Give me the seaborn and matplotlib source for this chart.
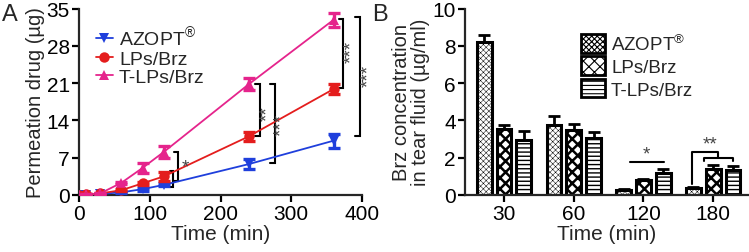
import numpy as np
import pandas as pd
import matplotlib
matplotlib.use("Agg")
import matplotlib.pyplot as plt
from matplotlib.patches import Patch
from matplotlib.lines import Line2D
import seaborn as sns

# ---------------- data ----------------
groups = ["AZOPT®", "LPs/Brz", "T-LPs/Brz"]
legend_labels = [r"AZOPT$^{\circledR}$", "LPs/Brz", "T-LPs/Brz"]

# Panel A: permeation (µg) vs time (min)
time_a = [0, 10, 30, 60, 90, 120, 240, 360]
azopt_a = [0, 0.05, 0.2, 0.5, 1.1, 1.9, 5.8, 10.2]
azopt_a_err = [0, 0, 0.05, 0.1, 0.3, 0.3, 0.9, 1.3]
lps_a = [0, 0.1, 0.3, 0.9, 2.2, 3.5, 11.0, 19.9]
lps_a_err = [0, 0, 0.1, 0.2, 0.3, 0.9, 0.9, 0.9]
tlps_a = [0, 0.1, 0.3, 2.3, 5.1, 8.1, 20.8, 32.9]
tlps_a_err = [0, 0, 0.1, 0.2, 1.0, 1.1, 1.1, 1.3]
xticks_a = [0, 100, 200, 300, 400]
yticks_a = [0, 7, 14, 21, 28, 35]

# Panel B: Brz concentration in tear fluid (µg/ml)
time_b = ["30", "60", "120", "180"]
azopt_b = [8.2, 3.75, 0.25, 0.35]
azopt_b_err = [0.4, 0.5, 0.05, 0.08]
lps_b = [3.55, 3.5, 0.8, 1.4]
lps_b_err = [0.22, 0.33, 0.05, 0.2]
tlps_b = [2.95, 3.05, 1.2, 1.35]
tlps_b_err = [0.5, 0.33, 0.22, 0.2]
yticks_b = [0, 2, 4, 6, 8, 10]

colors = {"AZOPT®": "#1f3fdc", "LPs/Brz": "#e41d1d", "T-LPs/Brz": "#e5248c"}
markers = {"AZOPT®": "v", "LPs/Brz": "o", "T-LPs/Brz": "^"}
hatches = {"AZOPT®": "xxxxxx", "LPs/Brz": "xxx", "T-LPs/Brz": "----"}
hatch_lw = {"AZOPT®": 0.35, "LPs/Brz": 1.8, "T-LPs/Brz": 1.0}

# ---------------- style ----------------
sns.set_style("ticks")
plt.rcParams["font.family"] = ["Liberation Sans", "DejaVu Sans"]
plt.rcParams["mathtext.fontset"] = "custom"
plt.rcParams["mathtext.rm"] = "Liberation Sans"
plt.rcParams["axes.linewidth"] = 1.6
plt.rcParams["xtick.major.width"] = 1.6
plt.rcParams["ytick.major.width"] = 1.6
plt.rcParams["xtick.major.size"] = 5
plt.rcParams["ytick.major.size"] = 5
plt.rcParams["hatch.linewidth"] = 0.8

def set_hlw(p, lw):
    if hasattr(p, "set_hatch_linewidth"):
        try:
            p.set_hatch_linewidth(lw)
        except Exception:
            pass

fig = plt.figure(figsize=(7.49, 2.53), dpi=100)
axA = fig.add_axes([0.1055, 0.2253, 0.3778, 0.737])
axB = fig.add_axes([0.6208, 0.2253, 0.378, 0.737])

# ---------------- Panel A ----------------
dfA = pd.DataFrame({
    "Time": time_a * 3,
    "Value": azopt_a + lps_a + tlps_a,
    "Err": azopt_a_err + lps_a_err + tlps_a_err,
    "Group": [groups[0]] * len(time_a) + [groups[1]] * len(time_a) + [groups[2]] * len(time_a),
})
sns.lineplot(data=dfA, x="Time", y="Value", hue="Group", style="Group",
             hue_order=groups, style_order=groups, palette=colors,
             markers=markers, dashes=False, markersize=7.5, linewidth=1.3,
             markeredgewidth=0, ax=axA, legend=False, zorder=3)
for g in groups:
    sub = dfA[dfA.Group == g]
    axA.errorbar(sub.Time, sub.Value, yerr=sub.Err, fmt="none",
                 ecolor=colors[g], elinewidth=2.4, capsize=4, capthick=2.4, zorder=3)

axA.set_xlim(0, 400)
axA.set_ylim(0, 35)
axA.set_xticks(xticks_a)
axA.set_yticks(yticks_a)
axA.set_xlabel("Time (min)", fontsize=15, labelpad=1)
axA.set_ylabel("Permeation drug (µg)", fontsize=14.5, labelpad=1)
axA.tick_params(labelsize=15, pad=1.5, colors="black")
sns.despine(ax=axA)

handlesA = [Line2D([0], [0], color=colors[g], marker=markers[g], markersize=7.5,
                   markeredgewidth=0, lw=1.3) for g in groups]
axA.legend(handlesA, legend_labels, loc="upper left", bbox_to_anchor=(0.045, 0.935),
           frameon=False, fontsize=14, handlelength=0.9, handletextpad=0.3,
           labelspacing=0.05, borderpad=0.2, borderaxespad=0)

def bracket_left(ax, xv, xl, y1, y2, lw=1.5):
    ax.plot([xl, xv, xv, xl], [y1, y1, y2, y2], color="black", lw=lw,
            clip_on=False, solid_joinstyle="miter")

def stars_v(ax, x, y, s):
    ax.text(x, y, s, rotation=90, ha="center", va="center", fontsize=13.5,
            color="#444444", clip_on=False)

bracket_left(axA, 140, 134, 8.0, 2.6)
bracket_left(axA, 133, 128, 4.5, 1.5)
axA.text(150, 5.3, "*", ha="center", va="center", fontsize=13.5, color="#444444")
bracket_left(axA, 256, 249, 20.8, 11.0)
stars_v(axA, 266, 15.5, "**")
bracket_left(axA, 277, 270, 20.8, 6.0)
stars_v(axA, 287, 13.3, "***")
bracket_left(axA, 373, 367, 33.0, 20.0)
stars_v(axA, 386, 27.0, "***")
bracket_left(axA, 397, 390, 33.5, 11.0)
stars_v(axA, 409, 22.5, "***")

# ---------------- Panel B ----------------
dfB = pd.DataFrame({
    "Time": time_b * 3,
    "Value": azopt_b + lps_b + tlps_b,
    "Err": azopt_b_err + lps_b_err + tlps_b_err,
    "Group": [groups[0]] * 4 + [groups[1]] * 4 + [groups[2]] * 4,
})
sns.barplot(data=dfB, x="Time", y="Value", hue="Group", hue_order=groups,
            order=time_b, palette=["white"] * 3, edgecolor="black", linewidth=2.2,
            width=0.85, gap=0.25, errorbar=None, legend=False, ax=axB, zorder=2)
for cont, g in zip(axB.containers, groups):
    sub = dfB[dfB.Group == g]
    xs = []
    for bar in cont:
        bar.set_hatch(hatches[g])
        set_hlw(bar, hatch_lw[g])
        xs.append(bar.get_x() + bar.get_width() / 2)
    axB.errorbar(xs, sub.Value.values, yerr=[np.zeros(len(xs)), sub.Err.values],
                 fmt="none", ecolor="black", elinewidth=2, capsize=4, capthick=2, zorder=1)

axB.set_xlim(-0.56, 3.5)
axB.set_ylim(0, 10)
axB.set_yticks(yticks_b)
axB.set_xlabel("Time (min)", fontsize=15, labelpad=1)
axB.set_ylabel("Brz concentration\nin tear fluid (µg/ml)", fontsize=14.5, labelpad=2,
               linespacing=1.0)
axB.tick_params(labelsize=15, pad=1.5, colors="black")
sns.despine(ax=axB)

handlesB = []
for g in groups:
    p = Patch(facecolor="white", edgecolor="black", hatch=hatches[g], lw=2)
    set_hlw(p, hatch_lw[g])
    handlesB.append(p)
axB.legend(handlesB, legend_labels, loc="upper left", bbox_to_anchor=(0.41, 0.87),
           frameon=False, fontsize=13.5, handlelength=1.3, handleheight=1.15,
           handletextpad=0.3, labelspacing=0.15, borderpad=0, borderaxespad=0)

# significance in B
axB.plot([1.8, 2.29], [1.75, 1.75], color="black", lw=1.5)
axB.text(2.04, 1.75, "*", ha="center", va="bottom", fontsize=13.5, color="#444444")
axB.plot([2.69, 2.69, 3.07, 3.07], [0.6, 2.3, 2.3, 2.0], color="black", lw=1.5)
axB.plot([2.87, 2.87, 3.29, 3.29], [1.8, 2.0, 2.0, 1.8], color="black", lw=1.5)
axB.text(2.95, 2.3, "**", ha="center", va="bottom", fontsize=13.5, color="#444444")

fig.text(0.003, 0.985, "A", fontsize=17, va="top", ha="left")
fig.text(0.497, 0.985, "B", fontsize=17, va="top", ha="left")

fig.savefig("out.png", dpi=100)
